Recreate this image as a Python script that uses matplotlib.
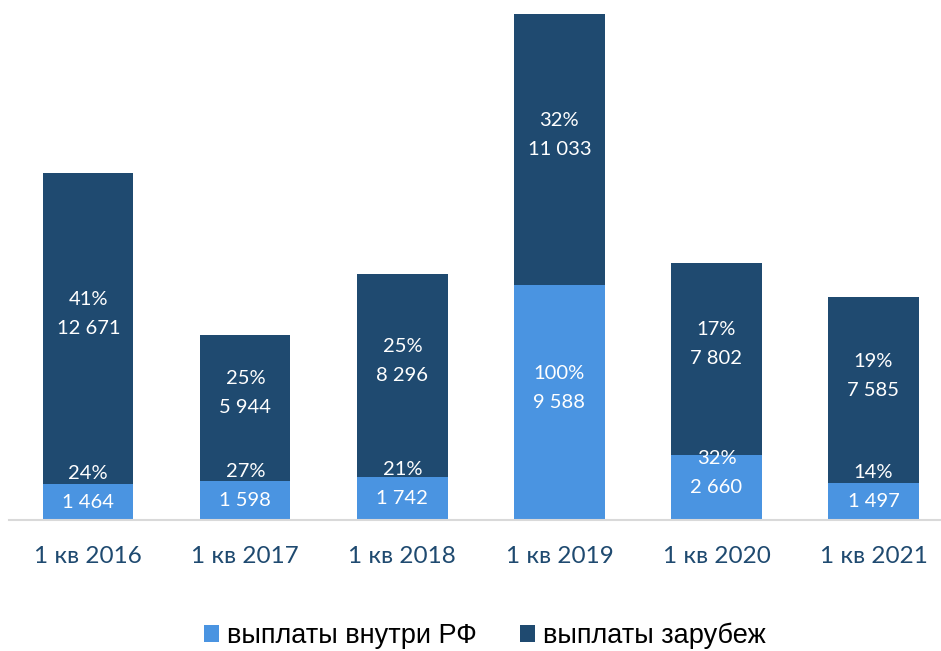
import matplotlib.pyplot as plt

categories = ["1 кв 2016", "1 кв 2017", "1 кв 2018", "1 кв 2019", "1 кв 2020", "1 кв 2021"]
inside = [1464, 1598, 1742, 9588, 2660, 1497]
inside_pct = ["24%", "27%", "21%", "100%", "32%", "14%"]
abroad = [12671, 5944, 8296, 11033, 7802, 7585]
abroad_pct = ["41%", "25%", "25%", "32%", "17%", "19%"]

light = "#4A94E1"
dark = "#1F4A70"

fig = plt.figure(figsize=(9.41, 6.51), dpi=100)
ax = fig.add_axes([9 / 941, 131 / 651, 932 / 941, 520 / 651])

x = range(len(categories))
w = 0.575
ax.bar(x, inside, w, color=light, label="выплаты внутри РФ")
ax.bar(x, abroad, w, bottom=inside, color=dark, label="выплаты зарубеж")

def fmt(v):
    return f"{v:,}".replace(",", " ")

lbl = dict(ha="center", va="center", color="white", fontsize=14.5, family="Lato")
for i in x:
    c1 = inside[i] / 2
    c2 = inside[i] + abroad[i] / 2
    ax.text(i, c1, fmt(inside[i]), **lbl)
    ax.text(i, c1 + 1180, inside_pct[i], **lbl)
    ax.text(i, c2, fmt(abroad[i]), **lbl)
    ax.text(i, c2 + 1180, abroad_pct[i], **lbl)

ax.set_xlim(-0.505, 5.43)
ax.set_ylim(0, 21180)
for s in ["top", "right", "left"]:
    ax.spines[s].set_visible(False)
ax.spines["bottom"].set_color("#D9D9D9")
ax.spines["bottom"].set_linewidth(1.5)
ax.set_yticks([])
ax.set_xticks(list(x))
ax.set_xticklabels(categories, fontsize=17.5, color=dark, family="Lato")
ax.tick_params(axis="x", length=0, pad=19)

fig.legend(loc="center", bbox_to_anchor=(485 / 941, 1 - 636 / 651), ncol=2, frameon=False,
           prop={"family": "Liberation Sans", "size": 19.5}, handlelength=0.55, handleheight=0.55,
           handletextpad=0.3, columnspacing=1.6)

fig.savefig("out.png", dpi=100)
